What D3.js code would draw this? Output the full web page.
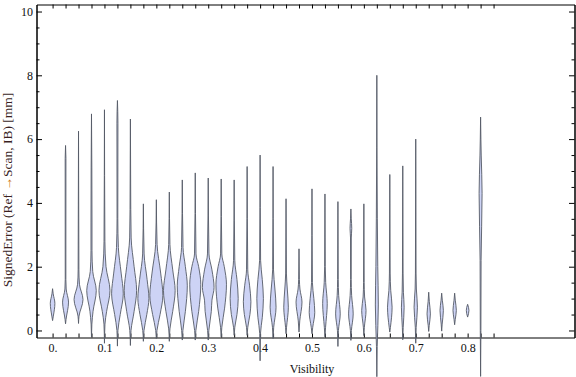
<!DOCTYPE html>
<html>
<head>
<meta charset="utf-8">
<script src="https://cdn.jsdelivr.net/npm/d3@7"></script>
<style>
body { margin: 0; background: #fff; }
text { font-family: "Liberation Serif", "DejaVu Serif", serif; }
</style>
</head>
<body>
<div id="chart"></div>
<script>

// visibility bin of each violin
var visibility = [0, 0.025, 0.05, 0.075, 0.1, 0.125, 0.15, 0.175, 0.2, 0.225,
                  0.25, 0.275, 0.3, 0.325, 0.35, 0.375, 0.4, 0.425, 0.45, 0.475,
                  0.5, 0.525, 0.55, 0.575, 0.6, 0.625, 0.65, 0.675, 0.7, 0.725,
                  0.75, 0.775, 0.8, 0.825];

// violin outlines: [signed error, relative density]
var profiles = [
  [[0.31,0],[0.45,0.12],[0.85,0.37],[1.15,0.1],[1.31,0]],
  [[0.21,0],[0.35,0.08],[0.89,0.48],[1.3,0.1],[1.6,0.05],[5.4,0.06],[5.8,0]],
  [[0.22,0],[0.45,0.08],[0.97,0.72],[1.45,0.15],[1.9,0.06],[6.25,0]],
  [[-0.2,0],[0.2,0.06],[0.6,0.25],[1.25,0.77],[1.85,0.2],[2.5,0.08],[3.4,0.08],[6.79,0]],
  [[-0.4,0],[0.2,0.08],[0.6,0.35],[1.25,0.89],[2.0,0.25],[2.8,0.07],[6.92,0]],
  [[-0.49,0],[0,0.08],[0.5,0.45],[1.15,0.94],[1.8,0.6],[2.6,0.15],[3.5,0.06],[6.5,0.08],[7.21,0]],
  [[-0.47,0],[0,0.1],[0.6,0.6],[1.25,1.0],[2.0,0.6],[2.9,0.12],[3.8,0.06],[6.63,0]],
  [[-0.34,0],[0,0.1],[0.5,0.55],[1.0,0.89],[1.6,0.6],[2.4,0.12],[3.97,0]],
  [[-0.25,0],[0,0.1],[0.5,0.6],[1.1,1.05],[1.8,0.7],[2.7,0.12],[4.1,0]],
  [[-0.34,0],[0.05,0.1],[0.6,0.55],[1.25,0.94],[1.9,0.55],[2.7,0.1],[4.34,0]],
  [[-0.3,0],[0,0.1],[0.6,0.5],[1.4,0.81],[2.0,0.5],[2.6,0.12],[4.72,0]],
  [[-0.3,0],[0,0.1],[0.6,0.55],[1.45,0.89],[2.0,0.55],[2.4,0.12],[4.94,0]],
  [[-0.3,0],[0,0.1],[0.6,0.5],[0.95,0.6],[1.35,0.94],[1.9,0.6],[2.4,0.12],[4.78,0]],
  [[-0.2,0],[0.1,0.1],[0.7,0.55],[1.45,0.85],[2.0,0.5],[2.4,0.1],[4.75,0]],
  [[-0.15,0],[0.1,0.1],[0.5,0.45],[1.0,0.65],[1.6,0.45],[2.2,0.1],[4.72,0]],
  [[-0.15,0],[0.1,0.1],[0.5,0.45],[0.9,0.61],[1.4,0.4],[1.9,0.1],[5.14,0]],
  [[-0.95,0],[-0.1,0.06],[0.4,0.35],[1.0,0.53],[1.6,0.35],[2.2,0.08],[5.5,0]],
  [[-0.25,0],[0.1,0.1],[0.73,0.48],[1.3,0.3],[1.9,0.07],[5.14,0]],
  [[-0.1,0],[0.1,0.08],[0.73,0.37],[1.3,0.2],[1.8,0.06],[4.13,0]],
  [[-0.05,0],[0.3,0.12],[0.89,0.48],[1.3,0.15],[1.6,0.06],[2.56,0]],
  [[-0.1,0],[0.1,0.12],[0.57,0.45],[1.0,0.3],[1.5,0.07],[4.44,0]],
  [[-0.2,0],[0.1,0.1],[0.84,0.37],[1.5,0.12],[2.0,0.05],[4.28,0]],
  [[-0.5,0],[0,0.08],[0.52,0.37],[1.1,0.12],[1.6,0.05],[4.04,0]],
  [[-0.31,0],[0,0.08],[0.52,0.37],[1.1,0.12],[1.6,0.05],[2.9,0.06],[3.2,0.14],[3.5,0.06],[3.81,0]],
  [[-0.16,0],[0.1,0.08],[0.63,0.35],[1.05,0.12],[1.5,0.05],[3.97,0]],
  [[-1.45,0],[-0.5,0.06],[0.8,0.24],[2.0,0.15],[3.5,0.08],[8.0,0]],
  [[-0.05,0],[0.1,0.1],[0.73,0.37],[1.25,0.15],[1.8,0.06],[4.89,0]],
  [[-0.29,0],[0.1,0.07],[0.73,0.22],[1.2,0.1],[1.8,0.05],[5.16,0]],
  [[-0.4,0],[0.1,0.07],[0.73,0.27],[1.3,0.1],[1.8,0.05],[6.0,0]],
  [[-0.03,0],[0.15,0.08],[0.52,0.27],[0.9,0.1],[1.2,0]],
  [[-0.02,0],[0.2,0.08],[0.63,0.27],[0.95,0.1],[1.17,0]],
  [[0.18,0],[0.35,0.1],[0.63,0.27],[0.95,0.1],[1.17,0]],
  [[0.42,0],[0.63,0.21],[0.82,0]],
  [[-1.44,0],[0,0.05],[2.2,0.08],[4.3,0.24],[5.5,0.1],[6.0,0.05],[6.69,0]]
];

var xLabels = [0, 0.1, 0.2, 0.3, 0.4, 0.5, 0.6, 0.7, 0.8];
var yLabels = [0, 2, 4, 6, 8, 10];

var width = 576, height = 377;

var svg = d3.select("#chart").append("svg")
    .attr("width", width)
    .attr("height", height);

var x = d3.scaleLinear().domain([-0.031, 1.006]).range([36.5, 574.5]);
var y = d3.scaleLinear().domain([-0.22, 10.22]).range([337.5, 4.5]);
var w = d3.scaleLinear().domain([0, 1]).range([0, 6.2]);

// category ticks every 0.025, one past the last violin
var xTicks = d3.range(0, 35).map(function(i) { return i * 0.025; });
var yMinor = d3.range(0, 21).map(function(i) { return i * 0.5; })
    .filter(function(v) { return yLabels.indexOf(v) < 0; });

function styleAxis(g) {
    g.selectAll("path, line").attr("stroke", "#000").attr("stroke-width", 1);
    g.selectAll("text").attr("font-family", "Liberation Serif, serif")
        .attr("font-size", 12).attr("fill", "#111");
}

// frame with ticks on all four sides
svg.append("g").attr("transform", "translate(0,337.5)")
    .call(d3.axisBottom(x).tickValues(xTicks).tickSize(-4).tickSizeOuter(0).tickFormat(""))
    .call(styleAxis);
svg.append("g").attr("transform", "translate(0,337.5)")
    .call(d3.axisBottom(x).tickValues(xLabels).tickSize(0).tickPadding(6)
        .tickFormat(function(d) { return d === 0 ? "0." : d3.format(".1f")(d); }))
    .call(styleAxis)
    .select(".domain").remove();
svg.append("g").attr("transform", "translate(0,4.5)")
    .call(d3.axisTop(x).tickValues(xTicks).tickSize(-4).tickSizeOuter(0).tickFormat(""))
    .call(styleAxis);

svg.append("g").attr("transform", "translate(36.5,0)")
    .call(d3.axisLeft(y).tickValues(yLabels).tickSize(-5.5).tickSizeOuter(0).tickPadding(3.5))
    .call(styleAxis);
svg.append("g").attr("transform", "translate(36.5,0)")
    .call(d3.axisLeft(y).tickValues(yMinor).tickSize(-3).tickSizeOuter(0).tickFormat(""))
    .call(styleAxis);
svg.append("g").attr("transform", "translate(574.5,0)")
    .call(d3.axisRight(y).tickValues(yLabels).tickSize(-5.5).tickSizeOuter(0).tickFormat(""))
    .call(styleAxis);
svg.append("g").attr("transform", "translate(574.5,0)")
    .call(d3.axisRight(y).tickValues(yMinor).tickSize(-3).tickSizeOuter(0).tickFormat(""))
    .call(styleAxis);

// violins
svg.append("g").selectAll("path")
    .data(profiles)
    .enter()
    .append("path")
    .attr("d", function(d, i) {
        var cx = x(visibility[i]);
        var pts = d.slice().sort(function(a, b) { return b[0] - a[0]; });
        return d3.area()
            .y(function(p) { return y(p[0]); })
            .x0(function(p) { return cx - w(p[1]); })
            .x1(function(p) { return cx + w(p[1]); })
            .curve(d3.curveMonotoneY)(pts);
    })
    .attr("fill", "#cdd3f5")
    .attr("stroke", "#555a66")
    .attr("stroke-width", 0.9);

// axis titles
svg.append("text")
    .attr("x", 312).attr("y", 373)
    .attr("text-anchor", "middle")
    .attr("font-size", 12).attr("fill", "#111")
    .text("Visibility");

var yt = svg.append("text")
    .attr("transform", "translate(12,190) rotate(-90)")
    .attr("text-anchor", "middle")
    .attr("font-size", 13.5).attr("fill", "#3a1f1f");
yt.append("tspan").text("SignedError (Ref ");
yt.append("tspan").attr("fill", "#d07a20").text("\u2192");
yt.append("tspan").text("Scan, IB) [mm]");

</script>
</body>
</html>
